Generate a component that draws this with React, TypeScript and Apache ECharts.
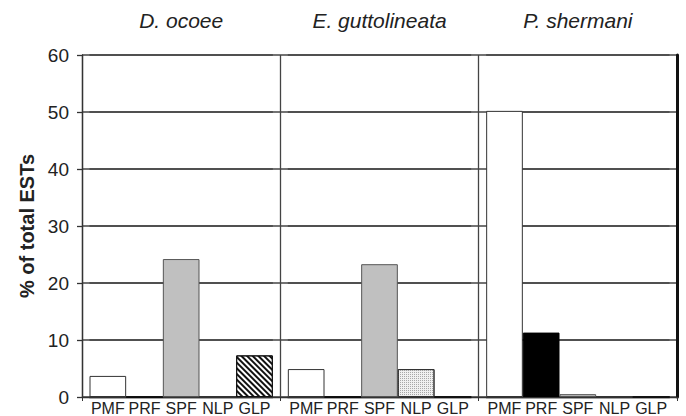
import React, { useEffect, useRef } from "react";
import * as echarts from "echarts";

const species = ["D. ocoee", "E. guttolineata", "P. shermani"];
const categories = ["PMF", "PRF", "SPF", "NLP", "GLP"];
const dOcoee = [3.7, 0, 24.2, 0, 7.3];
const eGuttolineata = [4.9, 0, 23.3, 4.9, 0];
const pShermani = [50.2, 11.3, 0.5, 0, 0];
const panelValues = [dOcoee, eGuttolineata, pShermani];

const FONT = "'Liberation Sans', Arial, sans-serif";
const gridLine = () => ({ color: "#444444", width: 1.6 });

const catStyles: Record<string, any> = {
  PMF: { color: "#ffffff", borderColor: "#333", borderWidth: 1 },
  PRF: { color: "#000000", borderColor: "#000", borderWidth: 1 },
  SPF: { color: "#c0c0c0", borderColor: "#555", borderWidth: 1 },
  NLP: {
    color: "#f0f0f0",
    borderColor: "#333",
    borderWidth: 1,
    decal: {
      symbol: "rect",
      symbolSize: 1,
      color: "#a8a8a8",
      dashArrayX: [1, 1],
      dashArrayY: [1, 1],
      rotation: 0,
    },
  },
  GLP: {
    color: "#ffffff",
    borderColor: "#111",
    borderWidth: 1,
    decal: {
      symbol: "rect",
      symbolSize: 1,
      color: "#111",
      dashArrayX: [1, 0],
      dashArrayY: [2, 1.6],
      rotation: Math.PI / 4,
    },
  },
};

export default function App() {
  const ref = useRef<HTMLDivElement>(null);
  useEffect(() => {
    if (!ref.current) return;
    const chart = echarts.init(ref.current, null, { renderer: "svg" });
    const plotLeft = 82;
    const plotWidth = 595;
    const top = 55;
    const height = 342;
    const panelW = plotWidth / 3;
    const pad = 7.5;

    const grids: any[] = [{ left: plotLeft, top, width: plotWidth, height }];
    const xAxes: any[] = [
      {
        type: "category",
        gridIndex: 0,
        data: species,
        position: "top",
        boundaryGap: true,
        axisLabel: {
          fontFamily: FONT,
          fontSize: 21,
          fontStyle: "italic",
          color: "#222",
          margin: 24,
          interval: 0,
        },
        axisLine: { show: false },
        axisTick: { show: false },
        splitLine: { show: true, interval: 0, lineStyle: { color: "#444", width: 1.3 } },
      },
      {
        type: "category",
        gridIndex: 0,
        data: species,
        position: "bottom",
        boundaryGap: true,
        axisLabel: { show: false },
        axisLine: { show: true, onZero: false, lineStyle: { color: "#333", width: 1.3 } },
        axisTick: { show: true, length: 4, interval: 0, lineStyle: { color: "#333" } },
        splitLine: { show: false },
      },
    ];
    const yAxes: any[] = [
      {
        type: "value",
        gridIndex: 0,
        min: 0,
        max: 60,
        interval: 10,
        name: "% of total ESTs",
        nameLocation: "middle",
        nameGap: 44,
        nameTextStyle: { fontFamily: FONT, fontSize: 20, fontWeight: "bold", color: "#222" },
        axisLabel: { fontFamily: FONT, fontSize: 19, color: "#222", margin: 13 },
        axisLine: { show: true, lineStyle: { color: "#333", width: 1.3 } },
        axisTick: { show: true, inside: false, length: 5, lineStyle: { color: "#333", width: 1.3 } },
        splitLine: { show: true, lineStyle: gridLine() },
      },
      {
        type: "value",
        gridIndex: 0,
        position: "right",
        min: 0,
        max: 60,
        interval: 10,
        axisLabel: { show: false },
        axisTick: { show: false },
        splitLine: { show: false },
        axisLine: { show: true, lineStyle: { color: "#111", width: 3 } },
      },
    ];
    const series: any[] = [];

    panelValues.forEach((vals, i) => {
      grids.push({
        left: plotLeft + i * panelW + pad,
        top,
        width: panelW - 2 * pad,
        height,
      });
      xAxes.push({
        type: "category",
        gridIndex: i + 1,
        data: categories,
        axisLine: { show: true, onZero: false, lineStyle: { color: "#333", width: 1.3 } },
        axisTick: { show: false },
        axisLabel: { fontFamily: FONT, fontSize: 16, color: "#222", margin: 3, interval: 0 },
      });
      yAxes.push({
        type: "value",
        gridIndex: i + 1,
        min: 0,
        max: 60,
        interval: 10,
        axisLine: { show: false },
        axisTick: { show: false },
        axisLabel: { show: false },
        splitLine: { show: true, lineStyle: gridLine() },
      });
      series.push({
        type: "bar",
        xAxisIndex: i + 2,
        yAxisIndex: i + 2,
        barCategoryGap: "0%",
        barGap: "0%",
        data: vals.map((v, k) => ({ value: v, itemStyle: catStyles[categories[k]] })),
      });
    });

    chart.setOption({
      animation: false,
      backgroundColor: "#ffffff",
      grid: grids,
      xAxis: xAxes,
      yAxis: yAxes,
      series,
    });
    return () => chart.dispose();
  }, []);
  return (
    <div
      ref={ref}
      style={{ position: "fixed", left: 0, top: 0, width: 686, height: 416 }}
    />
  );
}
